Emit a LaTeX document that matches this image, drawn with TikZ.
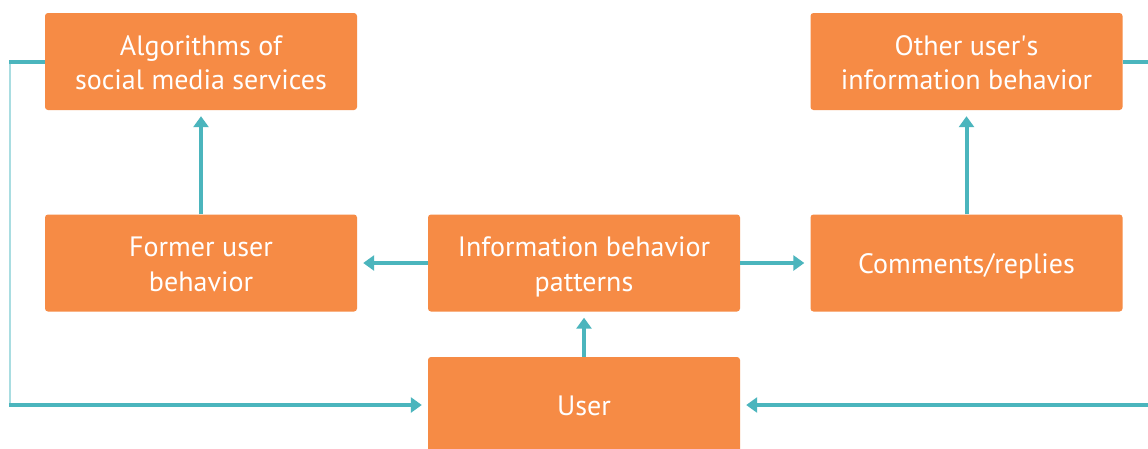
\documentclass[tikz,border=0pt]{standalone}
\usepackage{fontspec}
\setmainfont{PT Sans}
\usetikzlibrary{arrows.meta}
\definecolor{boxorange}{HTML}{F68B45}
\definecolor{linkteal}{HTML}{4BB5BD}
\definecolor{paleteal}{HTML}{A9DDE1}
% centred lines with uniform struts, set a little below the box centre
\newcommand\boxlines[1]{\raisebox{-4pt}[\height][\depth]{%
  \begin{tabular}{@{}c@{}}#1\end{tabular}}}
\tikzset{
  stepbox/.style={fill=boxorange, draw=none, rounded corners=3pt,
    minimum width=312pt, minimum height=97pt, text=white,
    font=\fontsize{28}{34.5}\selectfont, inner sep=0pt},
  flow/.style={draw=linkteal, line width=4pt,
    -{Triangle[length=11pt,width=15pt]}, shorten >=6pt},
  link/.style={draw=linkteal, line width=4pt},
  thinlink/.style={draw=paleteal, line width=1.5pt}
}
\begin{document}
\begin{tikzpicture}[x=1pt,y=-1pt]
\useasboundingbox (0,0) rectangle (1148,448);
\fill[white] (0,0) rectangle (1148,448);

\node[stepbox] (alg)  at (201,61.5)   {\boxlines{Algorithms of\\social media services}};
\node[stepbox] (oth)  at (966.5,61.5) {\boxlines{Other user\textquotesingle s\\information behavior}};
\node[stepbox] (fmr)  at (201,263)    {\boxlines{Former user\\behavior}};
\node[stepbox] (ibp)  at (584,263)    {\boxlines{Information behavior\\patterns}};
\node[stepbox] (com)  at (966.5,263)  {\boxlines{Comments/replies}};
\node[stepbox, minimum height=96pt] (usr) at (584,405) {\boxlines{User}};

\coordinate (lt) at (10,61.5);
\coordinate (lb) at (10,405);
\coordinate (rt) at (1150,61.5);
\coordinate (rb) at (1150,405);

\draw[thinlink] (lt) -- (lb);
\draw[link] ([xshift=-0.75pt]lt) -- (alg.west);
\draw[flow] ([xshift=-0.75pt]lb) -- (usr.west);
\draw[link] (oth.east) -- (rt);
\draw[flow] (rb) -- (usr.east);

\draw[flow] (fmr.north) -- (alg.south);
\draw[flow] (com.north) -- (oth.south);
\draw[flow] (ibp.west) -- (fmr.east);
\draw[flow] (ibp.east) -- (com.west);
\draw[flow] (usr.north) -- (ibp.south);
\end{tikzpicture}
\end{document}
